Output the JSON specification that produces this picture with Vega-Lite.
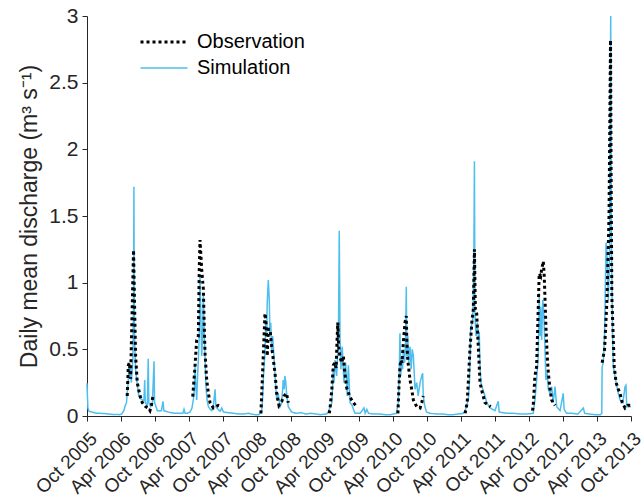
{
  "$schema": "https://vega.github.io/schema/vega-lite/v6.json",
  "autosize": "none",
  "width": 544,
  "height": 400,
  "padding": {"left": 87, "top": 16, "right": 13, "bottom": 86},
  "background": "white",
  "config": {
    "view": {"stroke": null},
    "font": "Liberation Sans",
    "axis": {"domainColor": "#262626", "tickColor": "#262626", "labelColor": "#262626", "titleColor": "#262626", "grid": false, "labelFont": "Liberation Sans", "titleFont": "Liberation Sans", "titleFontWeight": "normal", "domainWidth": 1, "tickWidth": 1, "tickSize": 5}
  },
  "datasets": {
    "sim": [
      {"date": "2005-10-01", "q": 0.245}, {"date": "2005-10-03", "q": 0.16}, {"date": "2005-10-06", "q": 0.06}, {"date": "2005-10-12", "q": 0.035}, {"date": "2005-10-25", "q": 0.03}, {"date": "2005-11-10", "q": 0.025}, {"date": "2005-11-25", "q": 0.02}, {"date": "2005-12-15", "q": 0.02}, {"date": "2006-01-05", "q": 0.018}, {"date": "2006-01-25", "q": 0.015}, {"date": "2006-02-15", "q": 0.012}, {"date": "2006-03-05", "q": 0.012}, {"date": "2006-03-25", "q": 0.01}, {"date": "2006-04-05", "q": 0.015}, {"date": "2006-04-17", "q": 0.04}, {"date": "2006-04-25", "q": 0.08}, {"date": "2006-05-01", "q": 0.1}, {"date": "2006-05-05", "q": 0.17}, {"date": "2006-05-10", "q": 0.25}, {"date": "2006-05-14", "q": 0.37}, {"date": "2006-05-18", "q": 0.28}, {"date": "2006-05-23", "q": 0.37}, {"date": "2006-05-27", "q": 0.25}, {"date": "2006-06-01", "q": 0.35}, {"date": "2006-06-05", "q": 0.45}, {"date": "2006-06-08", "q": 0.9}, {"date": "2006-06-10", "q": 1.72}, {"date": "2006-06-12", "q": 0.8}, {"date": "2006-06-14", "q": 0.55}, {"date": "2006-06-19", "q": 0.35}, {"date": "2006-06-28", "q": 0.23}, {"date": "2006-07-07", "q": 0.15}, {"date": "2006-07-16", "q": 0.13}, {"date": "2006-07-25", "q": 0.12}, {"date": "2006-08-03", "q": 0.12}, {"date": "2006-08-07", "q": 0.27}, {"date": "2006-08-10", "q": 0.1}, {"date": "2006-08-21", "q": 0.08}, {"date": "2006-08-26", "q": 0.43}, {"date": "2006-08-29", "q": 0.1}, {"date": "2006-09-08", "q": 0.07}, {"date": "2006-09-17", "q": 0.09}, {"date": "2006-09-26", "q": 0.41}, {"date": "2006-09-29", "q": 0.1}, {"date": "2006-10-14", "q": 0.04}, {"date": "2006-11-05", "q": 0.04}, {"date": "2006-11-13", "q": 0.11}, {"date": "2006-11-18", "q": 0.04}, {"date": "2006-12-10", "q": 0.03}, {"date": "2006-12-25", "q": 0.025}, {"date": "2007-01-20", "q": 0.02}, {"date": "2007-02-10", "q": 0.02}, {"date": "2007-02-28", "q": 0.02}, {"date": "2007-03-06", "q": 0.05}, {"date": "2007-03-12", "q": 0.02}, {"date": "2007-03-25", "q": 0.02}, {"date": "2007-04-07", "q": 0.03}, {"date": "2007-04-18", "q": 0.06}, {"date": "2007-04-25", "q": 0.12}, {"date": "2007-05-01", "q": 0.2}, {"date": "2007-05-04", "q": 0.37}, {"date": "2007-05-08", "q": 0.25}, {"date": "2007-05-13", "q": 0.12}, {"date": "2007-05-18", "q": 0.3}, {"date": "2007-05-22", "q": 0.42}, {"date": "2007-05-27", "q": 0.6}, {"date": "2007-05-31", "q": 1.05}, {"date": "2007-06-05", "q": 0.72}, {"date": "2007-06-09", "q": 0.45}, {"date": "2007-06-14", "q": 0.6}, {"date": "2007-06-18", "q": 0.9}, {"date": "2007-06-23", "q": 0.6}, {"date": "2007-07-02", "q": 0.22}, {"date": "2007-07-08", "q": 0.12}, {"date": "2007-07-15", "q": 0.07}, {"date": "2007-07-25", "q": 0.05}, {"date": "2007-08-02", "q": 0.04}, {"date": "2007-08-11", "q": 0.08}, {"date": "2007-08-20", "q": 0.2}, {"date": "2007-08-24", "q": 0.07}, {"date": "2007-08-29", "q": 0.06}, {"date": "2007-09-16", "q": 0.035}, {"date": "2007-09-25", "q": 0.06}, {"date": "2007-10-04", "q": 0.03}, {"date": "2007-10-31", "q": 0.025}, {"date": "2007-11-30", "q": 0.02}, {"date": "2007-12-25", "q": 0.015}, {"date": "2008-01-20", "q": 0.015}, {"date": "2008-02-15", "q": 0.02}, {"date": "2008-03-01", "q": 0.015}, {"date": "2008-03-20", "q": 0.01}, {"date": "2008-04-10", "q": 0.01}, {"date": "2008-04-26", "q": 0.03}, {"date": "2008-05-01", "q": 0.12}, {"date": "2008-05-05", "q": 0.27}, {"date": "2008-05-10", "q": 0.4}, {"date": "2008-05-14", "q": 0.47}, {"date": "2008-05-19", "q": 0.72}, {"date": "2008-05-23", "q": 0.6}, {"date": "2008-05-26", "q": 0.85}, {"date": "2008-06-01", "q": 1.02}, {"date": "2008-06-06", "q": 0.87}, {"date": "2008-06-10", "q": 0.6}, {"date": "2008-06-14", "q": 0.7}, {"date": "2008-06-19", "q": 0.47}, {"date": "2008-06-24", "q": 0.6}, {"date": "2008-06-28", "q": 0.52}, {"date": "2008-07-03", "q": 0.4}, {"date": "2008-07-07", "q": 0.3}, {"date": "2008-07-16", "q": 0.12}, {"date": "2008-07-24", "q": 0.17}, {"date": "2008-08-03", "q": 0.07}, {"date": "2008-08-12", "q": 0.1}, {"date": "2008-08-20", "q": 0.27}, {"date": "2008-08-25", "q": 0.2}, {"date": "2008-08-29", "q": 0.3}, {"date": "2008-09-03", "q": 0.25}, {"date": "2008-09-07", "q": 0.17}, {"date": "2008-09-16", "q": 0.07}, {"date": "2008-10-04", "q": 0.03}, {"date": "2008-10-30", "q": 0.02}, {"date": "2008-11-25", "q": 0.025}, {"date": "2008-12-20", "q": 0.015}, {"date": "2009-01-15", "q": 0.02}, {"date": "2009-02-10", "q": 0.015}, {"date": "2009-03-10", "q": 0.01}, {"date": "2009-04-10", "q": 0.015}, {"date": "2009-04-19", "q": 0.03}, {"date": "2009-05-08", "q": 0.1}, {"date": "2009-05-16", "q": 0.35}, {"date": "2009-05-20", "q": 0.25}, {"date": "2009-05-25", "q": 0.42}, {"date": "2009-06-03", "q": 0.3}, {"date": "2009-06-08", "q": 0.45}, {"date": "2009-06-12", "q": 0.5}, {"date": "2009-06-17", "q": 1.39}, {"date": "2009-06-21", "q": 0.6}, {"date": "2009-06-26", "q": 0.35}, {"date": "2009-07-03", "q": 0.52}, {"date": "2009-07-12", "q": 0.25}, {"date": "2009-07-17", "q": 0.35}, {"date": "2009-07-21", "q": 0.4}, {"date": "2009-07-30", "q": 0.15}, {"date": "2009-08-05", "q": 0.38}, {"date": "2009-08-14", "q": 0.1}, {"date": "2009-08-25", "q": 0.08}, {"date": "2009-09-01", "q": 0.05}, {"date": "2009-09-10", "q": 0.02}, {"date": "2009-10-07", "q": 0.02}, {"date": "2009-10-28", "q": 0.06}, {"date": "2009-11-03", "q": 0.02}, {"date": "2009-11-12", "q": 0.05}, {"date": "2009-11-21", "q": 0.02}, {"date": "2009-12-20", "q": 0.015}, {"date": "2010-01-20", "q": 0.015}, {"date": "2010-02-20", "q": 0.01}, {"date": "2010-03-20", "q": 0.01}, {"date": "2010-04-20", "q": 0.02}, {"date": "2010-04-30", "q": 0.1}, {"date": "2010-05-05", "q": 0.3}, {"date": "2010-05-09", "q": 0.62}, {"date": "2010-05-13", "q": 0.3}, {"date": "2010-05-18", "q": 0.45}, {"date": "2010-05-23", "q": 0.35}, {"date": "2010-05-27", "q": 0.5}, {"date": "2010-06-03", "q": 0.4}, {"date": "2010-06-08", "q": 0.55}, {"date": "2010-06-12", "q": 0.97}, {"date": "2010-06-15", "q": 0.45}, {"date": "2010-06-20", "q": 0.6}, {"date": "2010-06-25", "q": 0.4}, {"date": "2010-07-02", "q": 0.52}, {"date": "2010-07-08", "q": 0.35}, {"date": "2010-07-14", "q": 0.5}, {"date": "2010-07-20", "q": 0.45}, {"date": "2010-07-29", "q": 0.2}, {"date": "2010-08-07", "q": 0.25}, {"date": "2010-08-15", "q": 0.15}, {"date": "2010-08-25", "q": 0.25}, {"date": "2010-09-03", "q": 0.3}, {"date": "2010-09-08", "q": 0.32}, {"date": "2010-09-11", "q": 0.15}, {"date": "2010-09-20", "q": 0.07}, {"date": "2010-09-29", "q": 0.03}, {"date": "2010-10-17", "q": 0.02}, {"date": "2010-11-22", "q": 0.015}, {"date": "2010-12-20", "q": 0.015}, {"date": "2011-01-20", "q": 0.01}, {"date": "2011-02-20", "q": 0.01}, {"date": "2011-03-20", "q": 0.015}, {"date": "2011-04-15", "q": 0.02}, {"date": "2011-04-24", "q": 0.04}, {"date": "2011-05-11", "q": 0.12}, {"date": "2011-05-17", "q": 0.25}, {"date": "2011-05-24", "q": 0.65}, {"date": "2011-06-04", "q": 0.72}, {"date": "2011-06-10", "q": 1.2}, {"date": "2011-06-13", "q": 1.91}, {"date": "2011-06-16", "q": 0.75}, {"date": "2011-06-22", "q": 0.6}, {"date": "2011-06-29", "q": 0.7}, {"date": "2011-07-06", "q": 0.55}, {"date": "2011-07-09", "q": 0.63}, {"date": "2011-07-13", "q": 0.37}, {"date": "2011-07-18", "q": 0.25}, {"date": "2011-07-28", "q": 0.2}, {"date": "2011-08-09", "q": 0.15}, {"date": "2011-08-18", "q": 0.1}, {"date": "2011-09-05", "q": 0.06}, {"date": "2011-10-01", "q": 0.04}, {"date": "2011-10-19", "q": 0.11}, {"date": "2011-10-24", "q": 0.03}, {"date": "2011-12-03", "q": 0.02}, {"date": "2012-01-10", "q": 0.02}, {"date": "2012-02-15", "q": 0.015}, {"date": "2012-03-20", "q": 0.015}, {"date": "2012-04-24", "q": 0.02}, {"date": "2012-05-03", "q": 0.12}, {"date": "2012-05-12", "q": 0.27}, {"date": "2012-05-21", "q": 0.45}, {"date": "2012-05-26", "q": 0.92}, {"date": "2012-05-30", "q": 0.6}, {"date": "2012-06-03", "q": 0.82}, {"date": "2012-06-08", "q": 0.57}, {"date": "2012-06-14", "q": 0.87}, {"date": "2012-06-20", "q": 0.75}, {"date": "2012-06-26", "q": 0.5}, {"date": "2012-07-01", "q": 0.27}, {"date": "2012-07-08", "q": 0.32}, {"date": "2012-07-14", "q": 0.2}, {"date": "2012-07-23", "q": 0.17}, {"date": "2012-08-01", "q": 0.22}, {"date": "2012-08-09", "q": 0.1}, {"date": "2012-08-19", "q": 0.22}, {"date": "2012-08-28", "q": 0.07}, {"date": "2012-09-15", "q": 0.04}, {"date": "2012-10-02", "q": 0.17}, {"date": "2012-10-07", "q": 0.05}, {"date": "2012-10-20", "q": 0.02}, {"date": "2012-11-20", "q": 0.02}, {"date": "2012-12-20", "q": 0.015}, {"date": "2013-01-18", "q": 0.06}, {"date": "2013-01-25", "q": 0.02}, {"date": "2013-02-20", "q": 0.015}, {"date": "2013-03-20", "q": 0.01}, {"date": "2013-04-20", "q": 0.01}, {"date": "2013-04-27", "q": 0.02}, {"date": "2013-04-29", "q": 0.37}, {"date": "2013-05-05", "q": 0.4}, {"date": "2013-05-12", "q": 0.6}, {"date": "2013-05-20", "q": 1.3}, {"date": "2013-05-25", "q": 1.22}, {"date": "2013-06-01", "q": 0.87}, {"date": "2013-06-08", "q": 1.2}, {"date": "2013-06-14", "q": 3.0}, {"date": "2013-06-18", "q": 1.3}, {"date": "2013-06-24", "q": 0.62}, {"date": "2013-06-28", "q": 0.37}, {"date": "2013-07-13", "q": 0.25}, {"date": "2013-07-25", "q": 0.17}, {"date": "2013-08-03", "q": 0.12}, {"date": "2013-08-18", "q": 0.1}, {"date": "2013-08-30", "q": 0.22}, {"date": "2013-09-04", "q": 0.23}, {"date": "2013-09-08", "q": 0.07}, {"date": "2013-09-30", "q": 0.07}
    ],
    "obs": [
      {"date": "2006-05-05", "q": 0.15}, {"date": "2006-05-11", "q": 0.38}, {"date": "2006-05-17", "q": 0.4}, {"date": "2006-05-23", "q": 0.28}, {"date": "2006-05-30", "q": 0.7}, {"date": "2006-06-08", "q": 1.245}, {"date": "2006-06-14", "q": 0.8}, {"date": "2006-06-19", "q": 0.45}, {"date": "2006-06-28", "q": 0.25}, {"date": "2006-07-13", "q": 0.15}, {"date": "2006-07-25", "q": 0.1}, {"date": "2006-08-12", "q": 0.07}, {"date": "2006-08-26", "q": 0.06}, {"date": "2006-09-04", "q": 0.04}, {"date": "2006-09-12", "q": 0.08}, {"date": "2006-09-20", "q": 0.15},
      {"date": "2007-04-22", "q": 0.145}, {"date": "2007-05-04", "q": 0.37}, {"date": "2007-05-13", "q": 0.57}, {"date": "2007-05-22", "q": 0.6}, {"date": "2007-05-27", "q": 1.1}, {"date": "2007-05-31", "q": 1.32}, {"date": "2007-06-09", "q": 1.1}, {"date": "2007-06-18", "q": 0.95}, {"date": "2007-06-22", "q": 0.72}, {"date": "2007-06-27", "q": 0.47}, {"date": "2007-07-06", "q": 0.27}, {"date": "2007-07-15", "q": 0.17}, {"date": "2007-07-24", "q": 0.1}, {"date": "2007-08-11", "q": 0.06}, {"date": "2007-09-06", "q": 0.08}, {"date": "2007-09-25", "q": 0.07},
      {"date": "2008-04-22", "q": 0.02}, {"date": "2008-05-02", "q": 0.35}, {"date": "2008-05-09", "q": 0.6}, {"date": "2008-05-14", "q": 0.77}, {"date": "2008-05-19", "q": 0.72}, {"date": "2008-05-26", "q": 0.45}, {"date": "2008-06-01", "q": 0.65}, {"date": "2008-06-10", "q": 0.65}, {"date": "2008-06-19", "q": 0.52}, {"date": "2008-06-28", "q": 0.42}, {"date": "2008-07-07", "q": 0.32}, {"date": "2008-07-16", "q": 0.17}, {"date": "2008-07-28", "q": 0.08}, {"date": "2008-08-12", "q": 0.11}, {"date": "2008-08-24", "q": 0.15}, {"date": "2008-09-07", "q": 0.17}, {"date": "2008-09-16", "q": 0.1},
      {"date": "2009-04-24", "q": 0.02}, {"date": "2009-04-28", "q": 0.05}, {"date": "2009-05-08", "q": 0.2}, {"date": "2009-05-16", "q": 0.38}, {"date": "2009-05-24", "q": 0.4}, {"date": "2009-05-31", "q": 0.36}, {"date": "2009-06-06", "q": 0.6}, {"date": "2009-06-09", "q": 0.7}, {"date": "2009-06-14", "q": 0.52}, {"date": "2009-06-21", "q": 0.44}, {"date": "2009-06-30", "q": 0.4}, {"date": "2009-07-09", "q": 0.45}, {"date": "2009-07-14", "q": 0.36}, {"date": "2009-07-27", "q": 0.21}, {"date": "2009-08-14", "q": 0.14}, {"date": "2009-09-01", "q": 0.1}, {"date": "2009-09-19", "q": 0.07},
      {"date": "2010-04-28", "q": 0.02}, {"date": "2010-05-03", "q": 0.2}, {"date": "2010-05-09", "q": 0.37}, {"date": "2010-05-14", "q": 0.42}, {"date": "2010-05-20", "q": 0.4}, {"date": "2010-05-27", "q": 0.55}, {"date": "2010-06-05", "q": 0.7}, {"date": "2010-06-12", "q": 0.75}, {"date": "2010-06-15", "q": 0.55}, {"date": "2010-06-20", "q": 0.42}, {"date": "2010-07-02", "q": 0.27}, {"date": "2010-07-11", "q": 0.2}, {"date": "2010-07-20", "q": 0.12}, {"date": "2010-08-07", "q": 0.07}, {"date": "2010-08-25", "q": 0.06}, {"date": "2010-09-03", "q": 0.1}, {"date": "2010-09-11", "q": 0.15},
      {"date": "2011-04-24", "q": 0.02}, {"date": "2011-05-05", "q": 0.1}, {"date": "2011-05-11", "q": 0.25}, {"date": "2011-05-20", "q": 0.5}, {"date": "2011-05-30", "q": 0.7}, {"date": "2011-06-07", "q": 0.8}, {"date": "2011-06-13", "q": 1.25}, {"date": "2011-06-18", "q": 0.8}, {"date": "2011-06-25", "q": 0.77}, {"date": "2011-07-09", "q": 0.37}, {"date": "2011-07-13", "q": 0.25}, {"date": "2011-07-26", "q": 0.17}, {"date": "2011-08-09", "q": 0.1}, {"date": "2011-09-08", "q": 0.07},
      {"date": "2012-04-20", "q": 0.04}, {"date": "2012-04-24", "q": 0.08}, {"date": "2012-05-03", "q": 0.3}, {"date": "2012-05-12", "q": 0.37}, {"date": "2012-05-21", "q": 0.82}, {"date": "2012-05-26", "q": 1.07}, {"date": "2012-06-03", "q": 1.05}, {"date": "2012-06-08", "q": 1.1}, {"date": "2012-06-17", "q": 1.16}, {"date": "2012-06-22", "q": 1.05}, {"date": "2012-07-01", "q": 0.67}, {"date": "2012-07-08", "q": 0.45}, {"date": "2012-07-14", "q": 0.32}, {"date": "2012-07-23", "q": 0.2}, {"date": "2012-08-01", "q": 0.12}, {"date": "2012-08-09", "q": 0.1}, {"date": "2012-08-19", "q": 0.08},
      {"date": "2013-04-29", "q": 0.4}, {"date": "2013-05-12", "q": 0.5}, {"date": "2013-05-25", "q": 0.87}, {"date": "2013-06-05", "q": 1.5}, {"date": "2013-06-13", "q": 2.82}, {"date": "2013-06-16", "q": 1.87}, {"date": "2013-06-20", "q": 0.9}, {"date": "2013-07-03", "q": 0.37}, {"date": "2013-07-13", "q": 0.25}, {"date": "2013-07-25", "q": 0.2}, {"date": "2013-08-03", "q": 0.17}, {"date": "2013-08-15", "q": 0.1}, {"date": "2013-08-30", "q": 0.06}, {"date": "2013-09-14", "q": 0.08}, {"date": "2013-09-30", "q": 0.08}
    ]
  },
  "encoding": {
    "x": {
      "field": "date", "type": "temporal",
      "scale": {"type": "utc", "domain": [{"year": 2005, "month": 10, "date": 1, "utc": true}, {"year": 2013, "month": 10, "date": 1, "utc": true}], "nice": false},
      "axis": {
        "title": null, "format": "%b %Y", "labelAngle": -45, "labelAlign": "right", "labelBaseline": "top", "labelFontSize": 19, "labelPadding": 8, "labelOverlap": false,
        "values": [
          {"year": 2005, "month": 10, "date": 1, "utc": true}, {"year": 2006, "month": 4, "date": 1, "utc": true}, {"year": 2006, "month": 10, "date": 1, "utc": true},
          {"year": 2007, "month": 4, "date": 1, "utc": true}, {"year": 2007, "month": 10, "date": 1, "utc": true}, {"year": 2008, "month": 4, "date": 1, "utc": true},
          {"year": 2008, "month": 10, "date": 1, "utc": true}, {"year": 2009, "month": 4, "date": 1, "utc": true}, {"year": 2009, "month": 10, "date": 1, "utc": true},
          {"year": 2010, "month": 4, "date": 1, "utc": true}, {"year": 2010, "month": 10, "date": 1, "utc": true}, {"year": 2011, "month": 4, "date": 1, "utc": true},
          {"year": 2011, "month": 10, "date": 1, "utc": true}, {"year": 2012, "month": 4, "date": 1, "utc": true}, {"year": 2012, "month": 10, "date": 1, "utc": true},
          {"year": 2013, "month": 4, "date": 1, "utc": true}, {"year": 2013, "month": 10, "date": 1, "utc": true}
        ]
      }
    },
    "y": {
      "field": "q", "type": "quantitative",
      "scale": {"domain": [0, 3], "nice": false},
      "axis": {"title": "Daily mean discharge (m³ s⁻¹)", "values": [0, 0.5, 1, 1.5, 2, 2.5, 3], "format": "~g", "labelFontSize": 21, "titleFontSize": 23, "labelPadding": 4, "titlePadding": 7}
    }
  },
  "layer": [
    {
      "data": {"name": "sim"},
      "mark": {"type": "line", "strokeWidth": 1.5, "strokeCap": "butt"},
      "encoding": {
        "color": {
          "datum": "Simulation", "type": "nominal",
          "scale": {"domain": ["Observation", "Simulation"], "range": ["#000000", "#4DBEEE"]},
          "legend": {
            "title": null, "orient": "none", "legendX": 67, "legendY": 16, "padding": 0,
            "labelFontSize": 20, "labelFont": "Liberation Sans", "labelColor": "#000000", "labelOffset": 23,
            "symbolType": "stroke", "symbolSize": 2209, "symbolStrokeWidth": 2.5, "rowPadding": 6,
            "encode": {"symbols": {"update": {"strokeWidth": {"signal": "datum.value === 'Observation' ? 3 : 1.5"}}}}
          }
        },
        "strokeDash": {
          "datum": "Simulation", "type": "nominal",
          "scale": {"domain": ["Observation", "Simulation"], "range": [[3, 3], [1, 0]]}
        }
      }
    },
    {
      "data": {"name": "obs"},
      "mark": {"type": "line", "strokeWidth": 3, "strokeCap": "butt"},
      "encoding": {
        "color": {"datum": "Observation", "type": "nominal"},
        "strokeDash": {"datum": "Observation", "type": "nominal"},
        "detail": {"field": "date", "timeUnit": "utcyear", "type": "temporal"}
      }
    }
  ]
}
